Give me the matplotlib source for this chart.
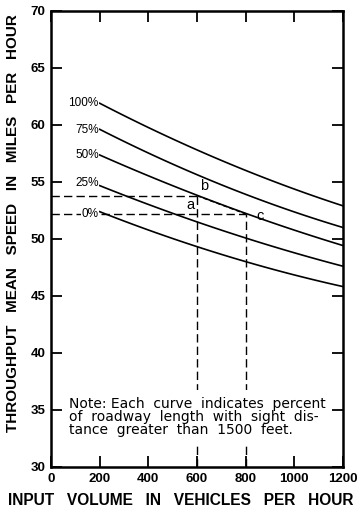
import matplotlib
matplotlib.use("Agg")
import matplotlib.pyplot as plt
import numpy as np

# values
volume = [200, 400, 600, 800, 1000, 1200]
curve_labels = ["100%", "75%", "50%", "25%", "0%"]
speed_100 = [61.9, 59.8, 57.8, 56.0, 54.4, 52.9]
speed_75 = [59.6, 57.6, 55.6, 53.9, 52.4, 51.0]
speed_50 = [57.4, 55.5, 53.8, 52.3, 50.8, 49.4]
speed_25 = [54.7, 53.0, 51.5, 50.1, 48.8, 47.6]
speed_0 = [52.4, 50.8, 49.3, 48.0, 46.9, 45.8]
label_y = [61.9, 59.6, 57.4, 54.9, 52.2]

# example points a, b, c
pt_b = (600, 53.8)
pt_c = (800, 52.2)

xticks = [0, 200, 400, 600, 800, 1000, 1200]
yticks = [30, 35, 40, 45, 50, 55, 60, 65, 70]

plt.rcParams['font.family'] = ['Liberation Sans', 'DejaVu Sans']

fig = plt.figure(figsize=(3.61, 5.13), dpi=100)
ax = fig.add_axes([0.1413, 0.0897, 0.8087, 0.8889])

curves = [speed_100, speed_75, speed_50, speed_25, speed_0]
for lab, ys, ly in zip(curve_labels, curves, label_y):
    xs = np.linspace(volume[0], volume[-1], 100)
    coef = np.polyfit(volume, ys, 2)
    ax.plot(xs, np.polyval(coef, xs), color="black", lw=1.2)
    ax.text(volume[0] - 4, ly, lab, ha="right", va="center", fontsize=8.5,
            bbox=dict(facecolor="white", edgecolor="none", pad=0.3), zorder=4)

# dashed construction lines
dash = dict(color="black", lw=1.0, dashes=(6, 3))
ax.plot([0, pt_b[0]], [pt_b[1], pt_b[1]], **dash)
ax.plot([0, pt_c[0]], [pt_c[1], pt_c[1]], **dash)
ax.plot([pt_b[0], pt_b[0]], [30, pt_b[1]], **dash)
ax.plot([pt_c[0], pt_c[0]], [30, pt_c[1]], **dash)
ax.plot([pt_b[0], pt_c[0]], [pt_b[1], pt_c[1]], color="black", lw=1.0, dashes=(3, 2))

ax.text(612, 54.0, "b", fontsize=10.5, ha="left", va="bottom")
ax.text(588, 52.4, "a", fontsize=10.5, ha="right", va="bottom")
ax.text(845, 52.0, "c", fontsize=10.5, ha="left", va="center")

ax.text(72, 34.4,
        "Note: Each  curve  indicates  percent\n"
        "of  roadway  length  with  sight  dis-\n"
        "tance  greater  than  1500  feet.",
        fontsize=10, family=['DejaVu Sans'], ha="left", va="center",
        linespacing=0.92,
        bbox=dict(facecolor="white", edgecolor="none", pad=5), zorder=5)

ax.set_xlim(0, 1200)
ax.set_ylim(30, 70)
ax.set_xticks(xticks)
ax.set_xticklabels([str(v) for v in xticks], fontsize=9.5, fontweight="bold")
ax.set_yticks(yticks)
ax.set_yticklabels([str(v) for v in yticks], fontsize=9.5, fontweight="bold")
ax.tick_params(direction="in", length=8, width=1.3, top=True, right=True, pad=4)
for s in ax.spines.values():
    s.set_linewidth(1.8)

fig.text(0.5, 0.024, "INPUT   VOLUME   IN   VEHICLES   PER   HOUR",
         fontsize=11.2, fontweight="bold", ha="center", va="center")
ax.set_ylabel("THROUGHPUT   MEAN   SPEED   IN   MILES   PER   HOUR",
              fontsize=11, fontweight="bold")
ax.yaxis.set_label_coords(-0.105, 0.535)

fig.savefig("out.png", dpi=100)
